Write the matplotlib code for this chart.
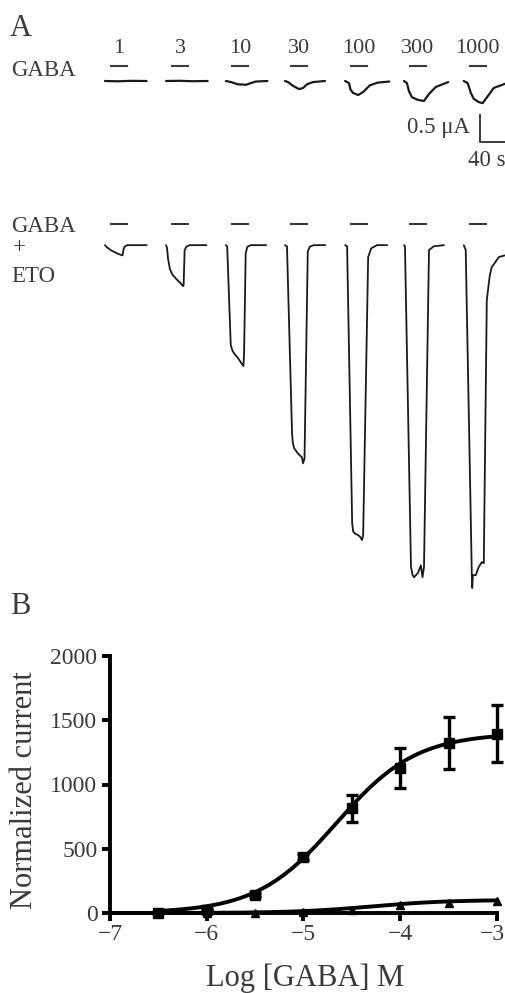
import numpy as np
import matplotlib
matplotlib.use('Agg')
from matplotlib import pyplot as plt
from matplotlib.transforms import ScaledTranslation

plt.rcParams['font.family'] = ['Liberation Serif', 'DejaVu Serif']

W, H = 506, 993
textColor = '#3a3a3a'
traceColor = '#1a1a1a'

# ---------------- Panel A data ----------------
# GABA concentrations (uM) of each sweep
concentrations = ['1', '3', '10', '30', '100', '300', '1000']
# start time of each sweep on the common time axis (s)
sweepStart = [161.5, 255.5, 347.5, 438.5, 531, 621.5, 713.5]
# GABA application, relative to sweep start (s)
barOn, barOff = 9, 34

# GABA alone: time (s) and current (uA)
gabaT = [
    [0, 20, 40, 64],
    [0, 20, 40, 64],
    [0, 8, 18, 31, 38, 46, 64],
    [0, 4.6, 12.3, 21.5, 27.7, 34, 43, 61.5],
    [0, 6, 8, 12, 20, 28, 38, 50, 68],
    [0, 4.6, 7.7, 12.3, 21.5, 30.8, 38.5, 49, 68],
    [0, 6, 10.8, 15.4, 23, 29, 37, 46, 66],
]
gabaI = [
    [0, -0.005, 0.003, 0],
    [0, 0.004, -0.004, 0],
    [0, -0.02, -0.06, -0.07, -0.04, -0.01, 0],
    [0, -0.02, -0.09, -0.15, -0.13, -0.06, -0.02, 0],
    [0, -0.04, -0.15, -0.22, -0.26, -0.20, -0.08, -0.03, -0.01],
    [0, -0.04, -0.19, -0.30, -0.35, -0.37, -0.24, -0.11, -0.02],
    [0, -0.04, -0.22, -0.33, -0.39, -0.41, -0.28, -0.13, -0.04],
]

# GABA + ETO: time (s) and current (uA)
etoT = [
    [0, 3, 10, 20, 27, 28.5, 30, 34, 64],
    [0, 1.5, 3, 6, 10, 16, 22, 26, 27, 28.5, 31, 36, 62],
    [0, 2, 7.5, 10, 13, 18, 23, 27, 28, 30.5, 33, 38, 62],
    [0, 3, 10.8, 12, 14, 20, 26, 27.7, 30, 35, 38, 44, 62],
    [0, 3, 10.8, 12.3, 15, 20, 23, 26, 27.7, 35.4, 40, 49, 64.6],
    [0, 1.5, 10.8, 13, 15.4, 21.5, 26, 28.5, 30.8, 38.5, 46, 61.5],
    [0, 3, 12.3, 13, 14, 18.5, 23, 27.7, 30.8, 35.4, 40, 43, 54, 63],
]
etoI = [
    [0, -0.04, -0.10, -0.16, -0.19, -0.08, -0.03, 0, 0],
    [0, -0.05, -0.25, -0.45, -0.55, -0.63, -0.70, -0.76, -0.74, -0.10, -0.03, 0, 0],
    [0, -0.02, -1.85, -1.95, -2.01, -2.08, -2.17, -2.24, -2.00, -0.15, -0.03, 0, 0],
    [0, -0.02, -3.48, -3.66, -3.76, -3.86, -3.93, -4.04, -3.95, -0.12, -0.03, 0, 0],
    [0, -0.02, -5.15, -5.30, -5.34, -5.37, -5.40, -5.46, -5.37, -0.22, -0.06, 0, 0],
    [0, -0.02, -5.96, -6.10, -6.15, -6.07, -5.93, -6.15, -5.96, -0.09, -0.02, 0],
    [0, -0.09, -6.06, -6.35, -6.11, -6.11, -5.96, -5.87, -5.89, -1.02, -0.56, -0.41, -0.22, -0.19],
]

row1Base = 0.0
row2Base = -3.04

# ---------------- Panel B data ----------------
logGaba = [-6.5, -6.0, -5.5, -5.0, -4.5, -4.0, -3.5, -3.0]
etoMean = [0, 25, 140, 436, 817, 1130, 1323, 1395]
etoErr = [0, 5, 15, 25, 105, 155, 200, 222]
gabaMean = [0, 0, 0, 8, 20, 62, 80, 96]

# Hill fits (bottom, top, logEC50, slope)
etoFit = (0, 1400, -4.66, 1.05)
gabaFit = (0, 102, -4.3, 1.1)


def hill(x, p):
    bottom, top, logEC50, slope = p
    return bottom + (top - bottom) / (1 + 10 ** ((logEC50 - x) * slope))


fig = plt.figure(figsize=(W / 100, H / 100), dpi=100)


def pxText(x, y, s, **kw):
    kw.setdefault('color', textColor)
    fig.text(x / W, 1 - y / H, s, **kw)


# Panel A in one axes: 1 s = 0.65 px, 1 uA = 54 px
axA = fig.add_axes([0, 0, 1, 1])
axA.axis('off')
axA.set_xlim(0, W / 0.65)
axA.set_ylim((81 - H) / 54, 81 / 54)

for i in range(len(concentrations)):
    t0 = sweepStart[i]
    axA.plot(np.array(gabaT[i]) + t0, np.array(gabaI[i]) + row1Base,
             color=traceColor, lw=1.6, solid_joinstyle='round', solid_capstyle='round')
    axA.plot(np.array(etoT[i]) + t0, np.array(etoI[i]) + row2Base,
             color=traceColor, lw=1.3, solid_joinstyle='round', solid_capstyle='round')
    # application bars
    axA.plot([t0 + barOn, t0 + barOff], [row1Base + 0.28] * 2, color=textColor, lw=1.5)
    axA.plot([t0 + barOn, t0 + barOff], [row2Base + 0.39] * 2, color=textColor, lw=1.5)
    axA.text(t0 + (barOn + barOff) / 2, row1Base + 0.61, concentrations[i],
             ha='center', va='center', fontsize=16, color=textColor)

# scale bar: 0.5 uA, 40 s
sbX = 738.5
sbY = -1.13
axA.plot([sbX, sbX, sbX + 40], [sbY + 0.5, sbY, sbY], color=textColor, lw=1.4)

pxText(10, 29, 'A', fontsize=22, va='center')
pxText(11, 70, 'GABA', fontsize=16.5, va='center')
pxText(11, 226, 'GABA', fontsize=16.5, va='center')
pxText(13, 248, '+', fontsize=16.5, va='center')
pxText(11, 277, 'ETO', fontsize=16.5, va='center')
pxText(470, 128, '0.5 μA', fontsize=16.5, va='center', ha='right')
pxText(487, 161, '40 s', fontsize=16.5, va='center', ha='center')
pxText(10, 607, 'B', fontsize=22, va='center')

# ---------------- Panel B ----------------
left, right, top, bottom = 110, 497, 656, 913
axB = fig.add_axes([left / W, 1 - bottom / H, (right - left) / W, (bottom - top) / H])
axB.patch.set_alpha(0)

xs = np.linspace(-6.5, -3, 200)
xs2 = np.linspace(-7, -3, 200)
axB.plot(xs, hill(xs, etoFit), color='black', lw=2.8, clip_on=False, zorder=3)
axB.plot(xs2, hill(xs2, gabaFit), color='black', lw=2.8, clip_on=False, zorder=3)
axB.errorbar(logGaba, etoMean, yerr=etoErr, fmt='s', color='black', ms=7,
             elinewidth=2.4, capsize=4.5, capthick=2.4, clip_on=False, zorder=4)
axB.plot(logGaba, gabaMean, '^', color='black', ms=6, clip_on=False, zorder=4)

axB.set_xlim(-7, -3)
axB.set_ylim(0, 2000)
axB.set_xticks([-7, -6, -5, -4, -3])
axB.set_yticks([0, 500, 1000, 1500, 2000])
for side in ['top', 'right']:
    axB.spines[side].set_visible(False)
for side in ['left', 'bottom']:
    axB.spines[side].set_linewidth(2.8)
    axB.spines[side].set_color('black')
axB.tick_params(axis='both', direction='out', length=6, width=2.8, color='black',
                labelsize=17, labelcolor=textColor)
axB.tick_params(axis='y', pad=3)
axB.tick_params(axis='x', pad=2)

# keep the last x tick label inside the figure
lastLabel = axB.get_xticklabels()[-1]
lastLabel.set_horizontalalignment('right')
lastLabel.set_transform(lastLabel.get_transform() + ScaledTranslation(8 / 100, 0, fig.dpi_scale_trans))

axB.set_ylabel('Normalized current', fontsize=22, color=textColor)
axB.set_xlabel('Log [GABA] M', fontsize=22, color=textColor)
axB.yaxis.set_label_coords(-0.184, 0.48)
axB.xaxis.set_label_coords(0.504, -0.195)

fig.savefig('out.png', dpi=100)
